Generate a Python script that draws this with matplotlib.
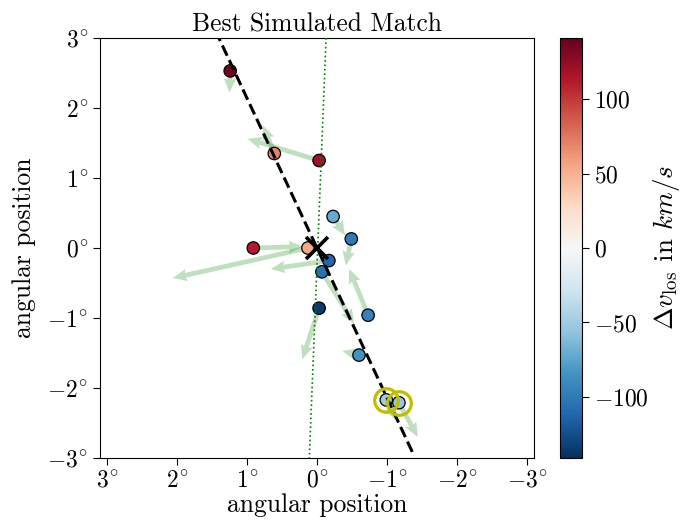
import numpy as np
import matplotlib
matplotlib.use("Agg")
import matplotlib.pyplot as plt

plt.rcParams['font.family'] = 'serif'
plt.rcParams['font.serif'] = ['cmr10']
plt.rcParams['mathtext.fontset'] = 'cm'
plt.rcParams['axes.unicode_minus'] = False

# positions (deg), proper-motion arrows (deg), line-of-sight velocity offsets (km/s)
pos_x = np.array([1.24, 0.61, -0.03, -0.23, -0.49, 0.91, 0.13, -0.17, -0.07, -0.03, -0.73, -0.60, -0.99, -1.17])
pos_y = np.array([2.53, 1.35, 1.25, 0.45, 0.13, 0.00, 0.00, -0.18, -0.34, -0.86, -0.96, -1.53, -2.17, -2.21])
arr_u = np.array([0.01, 0.16, 1.02, -0.17, 0.08, -0.71, 1.93, 0.83, -0.46, 0.24, 0.27, 0.24, -0.14, -0.27])
arr_v = np.array([-0.31, 0.40, 0.31, -0.27, -0.38, 0.02, -0.43, -0.12, -0.74, -0.73, 0.66, 0.06, -0.29, -0.49])
dv_los = np.array([135, 70, 120, -72, -100, 112, 55, -112, -105, -135, -95, -85, -50, -55])

# highlighted (circled) objects
circled = [12, 13]

# best-fit orientation line and slightly tilted reference line
fit_slope = 2.14
fit_x = np.array([1.45, -1.37])
ref_y = np.array([3.0, -3.0])
ref_x = -0.01 - 0.04 * ref_y

vlim = 141

fig = plt.figure(figsize=(6.89, 5.23), dpi=100)
ax = fig.add_axes([100 / 689, 65 / 523, 434 / 689, 420 / 523])
cax = fig.add_axes([560 / 689, 65 / 523, 22 / 689, 420 / 523])

ax.quiver(pos_x, pos_y, arr_u, arr_v, angles='xy', scale_units='xy', scale=1,
          color='g', alpha=0.25, width=0.011, headwidth=2.6, headlength=3.0,
          headaxislength=2.7, zorder=1)
sc = ax.scatter(pos_x, pos_y, c=dv_los, cmap='RdBu_r', vmin=-vlim, vmax=vlim,
                s=80, edgecolors='black', linewidths=0.9, zorder=2)
ax.plot(fit_x, fit_slope * fit_x, 'k--', lw=2.2, zorder=3)
ax.plot(ref_x, ref_y, 'g:', lw=1.2, zorder=3)
ax.plot(pos_x[circled], pos_y[circled], 'o', ms=17, mfc='none', mec='#bfbf00', mew=2.3, zorder=4)
ax.plot([0], [0], 'kx', ms=16, mew=2.6, zorder=5)

ax.set_xlim(3.1, -3.1)
ax.set_ylim(-3, 3)
ticks = [3, 2, 1, 0, -1, -2, -3]
ax.set_xticks(ticks)
ax.set_yticks(ticks)
ax.set_xticklabels([r'$%d^{\!\circ}$' % t for t in ticks])
ax.set_yticklabels([r'$%d^{\!\circ}$' % t for t in ticks])
ax.tick_params(labelsize=17, length=5)
ax.set_xlabel('angular position', fontsize=18.4, labelpad=1)
ax.set_ylabel('angular position', fontsize=18.4, labelpad=8)
ax.set_title('Best Simulated Match', fontsize=18.4, pad=5)

cb = fig.colorbar(sc, cax=cax)
cb_ticks = [100, 50, 0, -50, -100]
cb.set_ticks(cb_ticks)
cb.set_ticklabels([r'$%d$' % t for t in cb_ticks])
cb.ax.tick_params(labelsize=17, length=5)
cb.set_label(r'$\Delta v_\mathrm{los}$ in $km/s$', fontsize=19.5, labelpad=2)

fig.savefig('out.png', dpi=100)
